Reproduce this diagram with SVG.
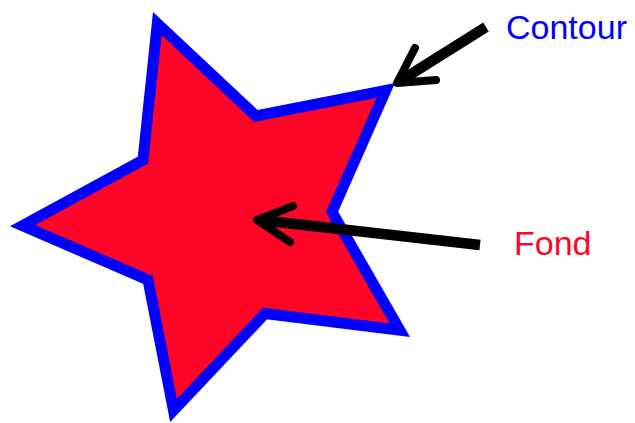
<svg xmlns="http://www.w3.org/2000/svg" width="635" height="423" viewBox="0 0 635 423">
<defs>
<style>
.star{fill:#ff0528;stroke:#0000ff;stroke-width:11;stroke-linejoin:miter;stroke-miterlimit:10}
.shaft{fill:none;stroke:#000;stroke-width:10.5;stroke-linecap:butt}
.head{fill:none;stroke:#000;stroke-width:8;stroke-linecap:round;stroke-linejoin:round}
.lbl{font-family:"Liberation Sans",Arial,sans-serif;font-size:34px}
</style>
</defs>
<rect width="635" height="423" fill="#fff"/>
<g id="star">
<polygon class="star" points="157.3,23.5 256,116 385.7,90.4 332,212 399.8,330.2 265,313.5 173.5,410.5 148,280 22.5,225.6 143,160"/>
</g>
<g id="connectors">
<g id="arrow-contour">
<line class="shaft" x1="486" y1="27" x2="400" y2="81"/>
<polyline class="head" points="415,48 397,83 436,80"/>
</g>
<g id="arrow-fond">
<line class="shaft" x1="480" y1="245" x2="260" y2="220"/>
<polyline class="head" points="293,206 257,220 290,242"/>
</g>
</g>
<g id="label-contour">
<text class="lbl" x="506" y="39" fill="#0000ff">Contour</text>
</g>
<g id="label-fond">
<text class="lbl" x="514" y="255" fill="#ff0528">Fond</text>
</g>
</svg>
